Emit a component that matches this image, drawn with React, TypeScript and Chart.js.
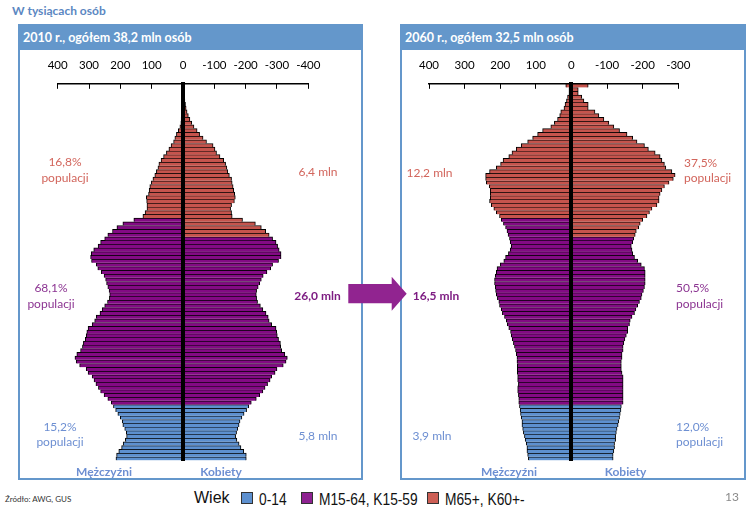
import React, { useEffect, useRef } from 'react';
import { Chart, registerables } from 'chart.js';

Chart.register(...registerables);

// ---------- data (thousands of persons, by single year of age 0..100) ----------
const AGES = Array.from({ length: 101 }, (_, i) => String(i));

const MALE_2010 = [
  214, 212, 205, 196, 191, 184, 180, 181, 186, 192,
  194, 200, 208, 215, 222, 229, 240, 252, 263, 270,
  278, 284, 290, 303, 309, 330, 341, 345, 339, 327,
  321, 318, 312, 309, 307, 303, 290, 282, 277, 265,
  258, 250, 241, 235, 234, 236, 240, 244, 247, 252,
  261, 272, 277, 292, 295, 293, 285, 271, 263, 250,
  240, 225, 211, 192, 157, 128, 121, 115, 115, 116,
  117, 110, 108, 106, 101, 96, 90, 85, 80, 77,
  70, 62, 53, 45, 38, 30, 26, 21, 15, 10,
  7, 6, 5, 4, 3, 2, 1.5, 1, 0.7, 0.4,
  0.3,
];
const FEMALE_2010 = [
  202, 202, 194, 185, 179, 172, 168, 171, 175, 179,
  182, 188, 195, 203, 210, 218, 234, 245, 255, 262,
  270, 278, 283, 294, 300, 320, 329, 333, 325, 315,
  312, 311, 305, 301, 299, 297, 283, 275, 272, 265,
  255, 247, 238, 235, 234, 235, 240, 245, 250, 256,
  268, 280, 286, 305, 313, 313, 307, 302, 297, 286,
  275, 264, 250, 231, 190, 157, 155, 152, 155, 164,
  167, 165, 162, 160, 157, 155, 148, 143, 140, 136,
  130, 118, 107, 102, 96, 75, 64, 53, 45, 35,
  28, 22, 17, 13, 10, 8, 6, 4, 3, 2,
  2,
];
const MALE_2060 = [
  121, 123, 125, 125, 127, 130, 132, 135, 137, 139,
  139, 141, 143, 144, 146, 148, 148, 149, 151, 151,
  149, 151, 151, 152, 152, 152, 153, 153, 155, 157,
  160, 163, 166, 169, 171, 176, 180, 183, 188, 194,
  197, 202, 204, 208, 211, 213, 214, 216, 216, 214,
  211, 209, 200, 190, 185, 177, 172, 169, 172, 174,
  178, 181, 185, 191, 197, 202, 211, 218, 225, 230,
  228, 228, 228, 231, 239, 241, 241, 230, 211, 199,
  192, 176, 167, 155, 141, 123, 109, 95, 81, 58,
  48, 39, 33, 30, 21, 18, 14, 11, 7, 7,
  16,
];
const FEMALE_2060 = [
  117, 117, 119, 121, 121, 124, 124, 126, 128, 131,
  133, 135, 137, 139, 140, 145, 145, 145, 145, 145,
  145, 145, 145, 142, 140, 140, 140, 142, 142, 145,
  145, 147, 150, 154, 158, 158, 163, 165, 170, 177,
  181, 186, 191, 196, 198, 202, 205, 207, 207, 207,
  207, 205, 196, 186, 177, 172, 170, 168, 172, 175,
  179, 182, 189, 193, 200, 212, 219, 226, 240, 246,
  246, 249, 254, 261, 274, 286, 291, 282, 265, 261,
  254, 249, 235, 216, 205, 184, 172, 156, 135, 119,
  105, 91, 77, 66, 47, 47, 35, 29, 19, 19,
  47,
];

// age-group thresholds (first age of next group)
const YOUTH_END = 15;
const MALE_RET = 65;
const FEMALE_RET = 60;

const C_BLUE = '#5d90cf';
const C_PURPLE = '#830a84';
const C_RED = '#c6544d';
const FRAME = '#6497cb';
const FONT = "Lato, 'Open Sans', sans-serif";

type PyrProps = {
  male: number[];
  female: number[];
  min: number;
  max: number;
  left: number;
  pad: { left: number; right: number; top: number; bottom: number };
};

const CW = 342;
const CH = 444;
const CTOP = 36;

function Pyramid({ male, female, min, max, left, pad }: PyrProps) {
  const ref = useRef<HTMLCanvasElement>(null);
  useEffect(() => {
    const colorFor = (age: number, ret: number) =>
      age < YOUTH_END ? C_BLUE : age < ret ? C_PURPLE : C_RED;
    const common = {
      borderColor: '#000',
      borderWidth: { top: 1, right: 1, bottom: 0, left: 1 },
      barPercentage: 1,
      categoryPercentage: 1,
    };
    const chart = new Chart(ref.current as HTMLCanvasElement, {
      type: 'bar',
      data: {
        labels: AGES,
        datasets: [
          {
            label: 'Mężczyźni',
            data: male,
            backgroundColor: AGES.map((_, i) => colorFor(i, MALE_RET)),
            ...common,
          } as any,
          {
            label: 'Kobiety',
            data: female.map((v) => -v),
            backgroundColor: AGES.map((_, i) => colorFor(i, FEMALE_RET)),
            ...common,
          } as any,
        ],
      },
      options: {
        indexAxis: 'y',
        responsive: false,
        maintainAspectRatio: false,
        animation: false,
        events: [],
        layout: { padding: pad },
        plugins: { legend: { display: false }, tooltip: { enabled: false } },
        scales: {
          x: {
            type: 'linear',
            position: 'top',
            reverse: true,
            min,
            max,
            stacked: true,
            ticks: {
              stepSize: 100,
              autoSkip: false,
              maxRotation: 0,
              color: '#000',
              padding: 17,
              font: { family: FONT, size: 11.5 },
            },
            grid: {
              display: true,
              drawOnChartArea: false,
              drawTicks: true,
              tickLength: -5,
              color: '#000',
              lineWidth: 1,
            },
            border: { display: true, color: '#000', width: 1.5 },
          },
          y: {
            type: 'category',
            reverse: true,
            stacked: true,
            position: { x: 0 } as any,
            z: 1,
            ticks: { display: false },
            grid: { display: false, drawTicks: false },
            border: { display: true, color: '#000', width: 4, z: 1 },
          },
        },
      } as any,
    });
    return () => chart.destroy();
  }, []);
  return (
    <canvas
      ref={ref}
      width={CW}
      height={CH}
      style={{ position: 'absolute', left, top: CTOP, width: CW, height: CH }}
    />
  );
}

type TP = {
  x: number;
  y: number;
  text: string;
  color: string;
  bold?: boolean;
  size?: number;
  align?: 'center' | 'left';
  family?: string;
};
function T({ x, y, text, color, bold, size = 12, align = 'center', family = FONT }: TP) {
  return (
    <div
      style={{
        position: 'absolute',
        left: x,
        top: y,
        transform: align === 'center' ? 'translate(-50%,-50%)' : 'translate(0,-50%)',
        whiteSpace: 'nowrap',
        color,
        fontFamily: family,
        fontWeight: bold ? 700 : 400,
        fontSize: size,
        lineHeight: 1,
      }}
    >
      {text}
    </div>
  );
}

const T_RED = '#d2655c';
const T_PURP = '#8c3592';
const T_PURP_B = '#7d1c82';
const T_BLUE = '#6d8fd2';

function Panel({ left, width, title }: { left: number; width: number; title: string }) {
  return (
    <div
      style={{
        position: 'absolute',
        left,
        top: 24,
        width,
        height: 456,
        border: `2px solid ${FRAME}`,
        boxSizing: 'border-box',
        background: '#fff',
      }}
    >
      <div
        style={{
          height: 24,
          background: FRAME,
          color: '#fff',
          fontFamily: FONT,
          fontWeight: 700,
          fontSize: 12.5,
          lineHeight: '24px',
          paddingLeft: 3,
        }}
      >
        {title}
      </div>
    </div>
  );
}

function LegendItem({ x, color, label }: { x: number; color: string; label: string }) {
  return (
    <>
      <div
        style={{
          position: 'absolute',
          left: x,
          top: 492,
          width: 12,
          height: 12,
          background: color,
          border: '1px solid #333',
          boxSizing: 'border-box',
        }}
      />
      <div
        style={{
          position: 'absolute',
          left: x + 18,
          top: 500,
          transform: 'translate(0,-50%) scaleX(0.86)',
          transformOrigin: 'left center',
          whiteSpace: 'nowrap',
          fontFamily: "'Liberation Sans', Arial, sans-serif",
          fontSize: 16,
          lineHeight: 1,
          color: '#111',
        }}
      >
        {label}
      </div>
    </>
  );
}

export default function App() {
  return (
    <div
      style={{
        position: 'fixed',
        left: 0,
        top: 0,
        width: 754,
        height: 514,
        background: '#fff',
        overflow: 'hidden',
      }}
    >
      <T x={12} y={11} text="W tysiącach osób" color="#5b87c2" bold align="left" />

      <Panel left={18} width={345} title="2010 r., ogółem 38,2 mln osób" />
      <Panel left={400} width={346} title="2060 r., ogółem 32,5 mln osób" />

      <Pyramid
        male={MALE_2010}
        female={FEMALE_2010}
        min={-400}
        max={400}
        left={19}
        pad={{ left: 38.7, right: 52.7, top: 5, bottom: 19.5 }}
      />
      <Pyramid
        male={MALE_2060}
        female={FEMALE_2060}
        min={-300}
        max={400}
        left={402}
        pad={{ left: 25.3, right: 65.7, top: 5, bottom: 19.5 }}
      />

      {/* left panel annotations */}
      <T x={65} y={162} text="16,8%" color={T_RED} />
      <T x={65} y={178} text="populacji" color={T_RED} />
      <T x={318} y={172} text="6,4 mln" color={T_RED} />
      <T x={51} y={288} text="68,1%" color={T_PURP} />
      <T x={51} y={304} text="populacji" color={T_PURP} />
      <T x={317.5} y={296} text="26,0 mln" color={T_PURP_B} bold />
      <T x={60} y={427} text="15,2%" color={T_BLUE} />
      <T x={60} y={442} text="populacji" color={T_BLUE} />
      <T x={318} y={436} text="5,8 mln" color={T_BLUE} />
      <T x={104} y={472} text="Mężczyźni" color={T_BLUE} bold />
      <T x={221} y={472} text="Kobiety" color={T_BLUE} bold />

      {/* right panel annotations */}
      <T x={429.5} y={173} text="12,2 mln" color={T_RED} />
      <T x={684} y={163} text="37,5%" color={T_RED} align="left" />
      <T x={684} y={178} text="populacji" color={T_RED} align="left" />
      <T x={436} y={296} text="16,5 mln" color={T_PURP_B} bold />
      <T x={676} y={288} text="50,5%" color={T_PURP} align="left" />
      <T x={676} y={304} text="populacji" color={T_PURP} align="left" />
      <T x={432} y={436} text="3,9 mln" color={T_BLUE} />
      <T x={676} y={427} text="12,0%" color={T_BLUE} align="left" />
      <T x={676} y={442} text="populacji" color={T_BLUE} align="left" />
      <T x={509} y={472} text="Mężczyźni" color={T_BLUE} bold />
      <T x={625.5} y={472} text="Kobiety" color={T_BLUE} bold />

      {/* arrow */}
      <svg
        width={75}
        height={45}
        style={{ position: 'absolute', left: 340, top: 270 }}
      >
        <polygon
          points="8.3,14 51.7,14 51.7,6.7 66.7,23.7 51.7,40.7 51.7,33.3 8.3,33.3"
          fill="#912490"
        />
      </svg>

      {/* footer */}
      <T x={5} y={499} text="Źródło:  AWG, GUS" color="#333" size={8} align="left" />
      <T
        x={194}
        y={498}
        text="Wiek"
        color="#111"
        size={16}
        align="left"
        family="'Liberation Sans', Arial, sans-serif"
      />
      <LegendItem x={241} color={C_BLUE} label="0-14" />
      <LegendItem x={301} color="#8e2291" label="M15-64, K15-59" />
      <LegendItem x={427} color="#cd5f55" label="M65+, K60+-" />
      <T x={725} y={497} text="13" color="#8a8a8a" size={12} align="left" />
    </div>
  );
}
